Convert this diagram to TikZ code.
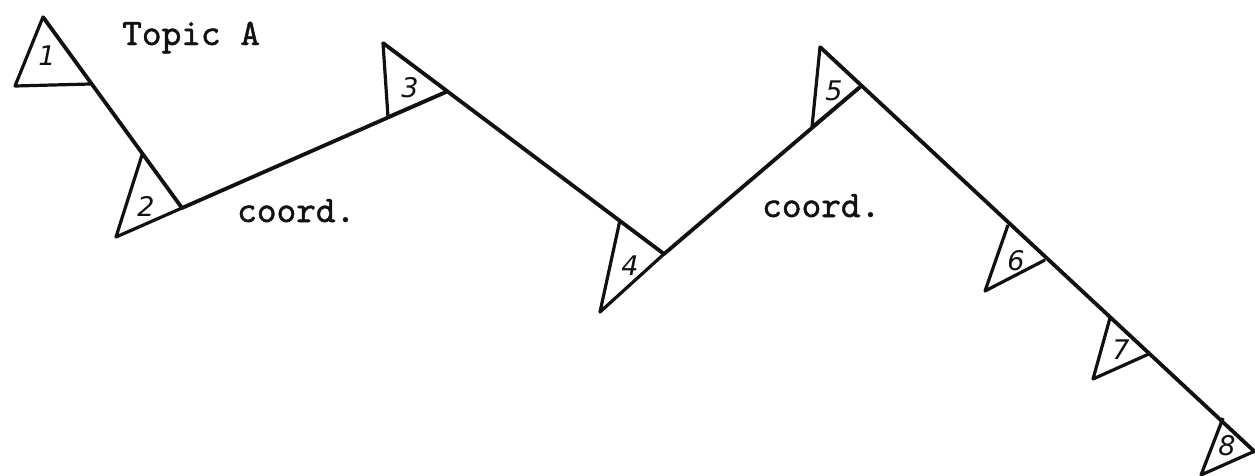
\documentclass[tikz,border=0pt]{standalone}
\usepackage{fontspec}
\newfontfamily\handfont{DejaVu Sans}
\newfontfamily\typefont[FakeBold=1.3]{lmmono10-regular.otf}
\usepackage{tikz}
\definecolor{ink}{HTML}{111111}
\definecolor{paper}{HTML}{FFFFFF}
\tikzset{
    chain/.style={ink,line width=3.8pt,line cap=round,line join=round},
    flag/.style={ink,line width=3.2pt,line join=round},
    num/.style={ink,font=\fontsize{27}{27}\selectfont\handfont\itshape},
    label/.style={ink,anchor=base west,inner sep=0pt,font=\fontsize{37.5}{40}\selectfont\typefont}
}

\begin{document}
\begin{tikzpicture}[x=1pt,y=-1pt]
    \useasboundingbox (0,0) rectangle (1255,475);
    \fill[paper](0,0) rectangle (1255,475);
    % zigzag corners
    \coordinate (a1) at (43,17);
    \coordinate (a2) at (182,208);
    \coordinate (a3) at (446,92);
    \coordinate (b3) at (383,43);
    \coordinate (a4) at (664,254);
    \coordinate (a5) at (860,87);
    \coordinate (b5) at (820,47);
    \coordinate (end) at (1255,452);
    \draw[chain](a1)--(a2)--(a3);
    \draw[chain](b3)--(a4)--(a5);
    \draw[chain](b5)--(end);
    % triangles
    \coordinate (t1l) at (15,86);  \coordinate (t1r) at (90,84);
    \coordinate (t2t) at (142,155); \coordinate (t2l) at (116,237);
    \coordinate (t3l) at (388,117);
    \coordinate (t4t) at (620,220); \coordinate (t4l) at (600,312);
    \coordinate (t5l) at (812,127);
    \coordinate (t6t) at (1008,225); \coordinate (t6l) at (985,291); \coordinate (t6r) at (1045,260);
    \coordinate (t7t) at (1110,318); \coordinate (t7l) at (1093,379); \coordinate (t7r) at (1151,353);
    \coordinate (t8t) at (1223,418); \coordinate (t8l) at (1201,475); \coordinate (t8r) at (1255,451);
    \draw[flag](a1)--(t1l)--(t1r);
    \draw[flag](t2t)--(t2l)--(a2);
    \draw[flag](b3)--(t3l)--(a3);
    \draw[flag](t4t)--(t4l)--(a4);
    \draw[flag](b5)--(t5l)--(a5);
    \draw[flag](t6t)--(t6l)--(t6r);
    \draw[flag](t7t)--(t7l)--(t7r);
    \draw[flag](t8t)--(t8l)--(t8r);
    % numbers
    \node[num] (n1) at (47,56) {1};
    \node[num] (n2) at (146,206) {2};
    \node[num] (n3) at (410,88) {3};
    \node[num] (n4) at (630,266) {4};
    \node[num] (n5) at (834,91) {5};
    \node[num] (n6) at (1016,261) {6};
    \node[num] (n7) at (1121,350) {7};
    \node[num] (n8) at (1227,446) {8};
    % texts
    \node[label] (topic) at (122,45) {Topic A};
    \node[label] (crd1) at (237,222) {coord.};
    \node[label] (crd2) at (762,217) {coord.};
\end{tikzpicture}
\end{document}
